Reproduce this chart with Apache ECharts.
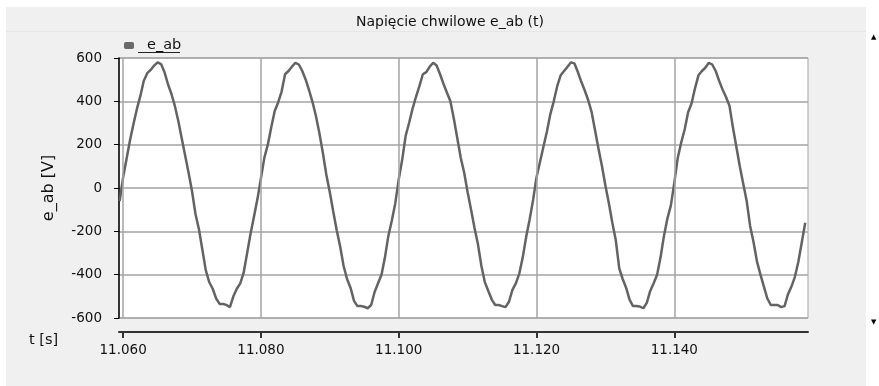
<!DOCTYPE html>
<html>
<head>
<meta charset="utf-8">
<script src="https://cdn.jsdelivr.net/npm/echarts@6/dist/echarts.min.js"></script>
<style>
  html, body { margin: 0; padding: 0; background: #ffffff; }
  #chart { width: 879px; height: 386px; }
</style>
</head>
<body>
<div id="chart"></div>
<script>
// ---- data ----
const TITLE = 'Napięcie chwilowe e_ab (t)';
const SERIES_NAME = 'e_ab';
const T_START = 11.0595;   // first sample time [s]
const T_STEP = 0.0005;     // sample spacing [s]
const X_MIN = 11.0594;
const X_MAX = 11.1594;
const X_TICKS = [11.060, 11.080, 11.100, 11.120, 11.140];
const Y_MIN = -600, Y_MAX = 600, Y_STEP = 200;

const cycle1 = [-60, 50, 135, 220, 295, 365, 425, 495, 530, 545, 565, 580, 572, 535, 480, 435, 380, 310, 230, 150,
  70, -15, -120, -190, -285, -380, -435, -465, -510, -535, -535, -540, -550, -500, -465, -440, -390, -300, -210, -130];
const cycle2 = [-50, 45, 140, 200, 280, 355, 395, 445, 525, 540, 560, 578, 570, 540, 500, 450, 395, 330, 250, 160,
  60, -20, -110, -195, -270, -360, -420, -460, -520, -545, -545, -548, -555, -540, -480, -440, -400, -320, -220, -150];
const cycle3 = [-70, 40, 130, 240, 300, 365, 420, 470, 525, 535, 560, 578, 565, 525, 480, 440, 400, 320, 230, 140,
  70, -20, -100, -185, -260, -360, -435, -475, -515, -540, -540, -545, -550, -525, -470, -440, -395, -320, -225, -145];
const cycle4 = [-55, 50, 120, 190, 260, 340, 400, 470, 520, 540, 560, 580, 575, 535, 490, 450, 405, 350, 265, 180,
  100, 10, -70, -160, -240, -370, -420, -460, -515, -545, -545, -547, -555, -530, -475, -440, -400, -320, -220, -140];
const cycle5 = [-80, 25, 140, 210, 270, 350, 390, 460, 520, 540, 555, 578, 570, 540, 495, 455, 420, 380, 280, 190,
  100, 20, -60, -175, -250, -340, -400, -455, -510, -540, -540, -540, -550, -545, -490, -455, -410, -340, -250, -160];

const values = [].concat(cycle1, cycle2, cycle3, cycle4, cycle5);
const seriesData = values.map((v, i) => [T_START + i * T_STEP, v]);

const FONT = 'DejaVu Sans';
const TXT = '#111111';
const GRID_C = '#a3a3a3';

const chart = echarts.init(document.getElementById('chart'), null, { renderer: 'canvas' });

const option = {
  backgroundColor: '#ffffff',
  animation: false,
  textStyle: { fontFamily: FONT, color: TXT },
  title: {
    text: TITLE,
    left: 445, top: 10, textAlign: 'center',
    textStyle: { fontFamily: FONT, fontSize: 14, fontWeight: 'normal', color: TXT }
  },
  legend: {
    left: 119, top: 33,
    icon: 'roundRect', itemWidth: 10, itemHeight: 7,
    data: [SERIES_NAME],
    textStyle: { fontFamily: FONT, fontSize: 14.5, color: TXT, padding: [0, 0, 0, 8] }
  },
  grid: {
    left: 119, right: 71, top: 58, bottom: 68,
    show: true, backgroundColor: '#ffffff', borderColor: GRID_C, borderWidth: 1
  },
  xAxis: {
    type: 'value', min: X_MIN, max: X_MAX,
    offset: 14,
    axisLine: { show: true, onZero: false, lineStyle: { color: '#333333', width: 2 } },
    axisTick: { show: true, inside: false, length: 6, customValues: X_TICKS, lineStyle: { color: '#333333', width: 2 } },
    axisLabel: { customValues: X_TICKS, margin: 11, fontFamily: FONT, fontSize: 13.5, color: TXT,
      formatter: v => v.toFixed(3) },
    splitLine: { show: false }
  },
  yAxis: {
    type: 'value', min: Y_MIN, max: Y_MAX, interval: Y_STEP,
    name: 'e_ab [V]', nameLocation: 'middle', nameGap: 62, nameRotate: 90,
    nameTextStyle: { fontFamily: FONT, fontSize: 16, color: TXT },
    axisLine: { show: true, onZero: false, lineStyle: { color: '#000000', width: 1.5 } },
    axisTick: { show: true, length: 5, lineStyle: { color: '#000000', width: 1 } },
    axisLabel: { margin: 17, fontFamily: FONT, fontSize: 13.5, color: TXT },
    splitLine: { show: true, lineStyle: { color: GRID_C, width: 1.5 } }
  },
  series: [{
    name: SERIES_NAME,
    type: 'line',
    data: seriesData,
    showSymbol: false,
    smooth: false,
    color: '#6a6a6a',
    lineStyle: { color: '#636363', width: 2.5 },
    markLine: {
      silent: true, symbol: ['none', 'none'], label: { show: false },
      lineStyle: { color: GRID_C, type: 'solid', width: 1.5 },
      data: X_TICKS.map(x => ({ xAxis: x }))
    },
    z: 3
  }],
  graphic: [
    { type: 'rect', z: -10, silent: true, shape: { x: 6, y: 7, width: 860, height: 379 }, style: { fill: '#f0f0f0' } },
    { type: 'line', z: -9, silent: true, shape: { x1: 6, y1: 31.5, x2: 866, y2: 31.5 }, style: { stroke: '#e6e6e6', lineWidth: 1 } },
    { type: 'line', z: 10, silent: true, shape: { x1: 138, y1: 52.5, x2: 180, y2: 52.5 }, style: { stroke: '#222222', lineWidth: 1 } },
    { type: 'text', z: 10, silent: true, left: 29, top: 333, style: { text: 't [s]', fontFamily: FONT, fontSize: 14.5, fill: TXT } },
    { type: 'text', z: 10, silent: true, left: 871, top: 34, style: { text: '▲', fontFamily: FONT, fontSize: 7, fill: '#000' } },
    { type: 'text', z: 10, silent: true, left: 871, top: 319, style: { text: '▼', fontFamily: FONT, fontSize: 7, fill: '#000' } }
  ]
};
chart.setOption(option);
</script>
</body>
</html>
